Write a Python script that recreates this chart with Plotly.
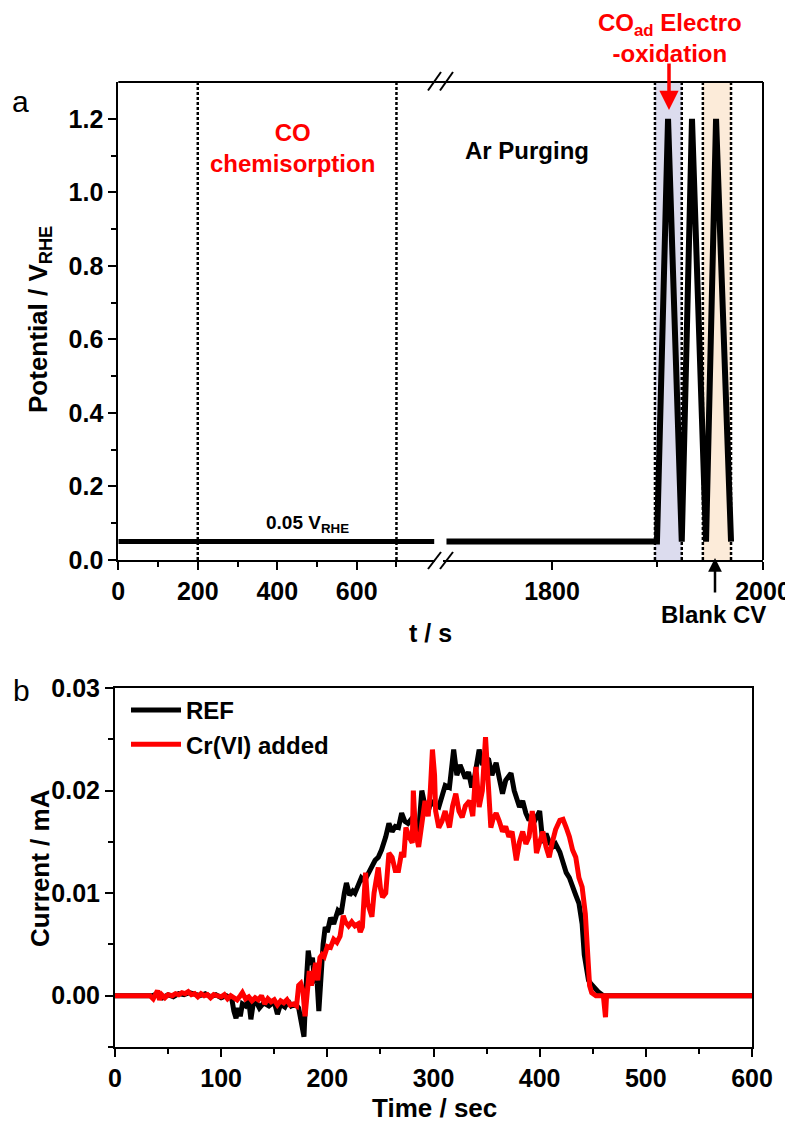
import plotly.graph_objects as go

# ---------------- data: panel a ----------------
t_hold_left = [0, 795]
e_hold_left = [0.05, 0.05]
t_cv = [1700, 1899.5, 1910, 1923, 1932.7, 1946, 1955.5, 1969.7]
e_cv = [0.05, 0.05, 1.2, 0.05, 1.2, 0.05, 1.2, 0.05]
step_marks_left = [200, 700]
co_ox_window = [1897.6, 1923]
blank_cv_window = [1943, 1969.7]

# ---------------- data: panel b ----------------
t_ref = [0, 35, 40, 45, 50, 55, 60, 65, 70, 75, 80, 85, 90, 95, 100, 105, 110, 112, 114, 116,
         118, 120, 123, 126, 128, 130, 133, 136, 140, 145, 150, 153, 156, 160, 163, 166, 170, 173,
         176, 178, 180, 182, 184, 186, 188, 190, 192, 194, 196, 198, 200, 203, 206, 210, 213, 216,
         218, 221, 224, 226, 229, 232, 235, 239, 242, 245, 248, 251, 255, 258, 261, 264, 267, 270,
         273, 276, 279, 282, 286, 289, 292, 295, 298, 301, 305, 308, 311, 315, 319, 322, 325, 327,
         330, 333, 336, 339, 343, 346, 349, 352, 355, 359, 362, 365, 368, 371, 373, 376, 379, 381,
         384, 387, 390, 393, 396, 400, 403, 406, 409, 412, 415, 419, 422, 425, 428, 431, 434, 437,
         440, 442, 444, 446, 448, 451, 455, 460, 470, 600]
i_ref = [0, 0, 0.0002, -0.0002, 0.0001, -0.0001, 0.0002, 0.0001, 0.0003, 0.0001, 0, 0.0002, -0.0001,
         0.0001, -0.0002, 0, -0.0003, -0.0015, -0.0022, -0.0012, -0.0020, -0.0008, -0.0010, -0.0005,
         -0.0023, -0.0009, -0.0006, -0.0012, -0.0007, -0.0010, -0.0006, -0.0018, -0.0008, -0.0011,
         -0.0005, -0.0010, -0.0008, -0.0012, -0.0030, -0.0040, 0.0010, 0.0044, 0.0030, 0.0037,
         0.0012, 0.0020, -0.0015, 0.0030, 0.0050, 0.0067, 0.0062, 0.0076, 0.0070, 0.0083, 0.0080,
         0.0100, 0.0110, 0.0098, 0.0102, 0.0100, 0.0108, 0.0115, 0.0112, 0.0120, 0.0125, 0.0132,
         0.0135, 0.0142, 0.0155, 0.0168, 0.0160, 0.0165, 0.0164, 0.0178, 0.0170, 0.0168, 0.0172,
         0.0165, 0.0160, 0.0200, 0.0185, 0.0180, 0.0190, 0.0186, 0.0184, 0.0195, 0.0205, 0.0203,
         0.0240, 0.0215, 0.0225, 0.0220, 0.0212, 0.0218, 0.0203, 0.0215, 0.0240, 0.0225, 0.0232,
         0.0230, 0.0215, 0.0227, 0.0210, 0.0197, 0.0210, 0.0215, 0.0217, 0.0200, 0.0192, 0.0184,
         0.0190, 0.0178, 0.0171, 0.0176, 0.0172, 0.0180, 0.0149, 0.0158, 0.0150, 0.0145, 0.0148,
         0.0140, 0.0130, 0.0120, 0.0115, 0.0105, 0.0098, 0.0090, 0.0070, 0.0040, 0.0025, 0.0015,
         0.0012, 0.0008, 0.0004, 0.0, 0.0, 0.0]

t_cr = [0, 33, 36, 38, 40, 42, 44, 47, 50, 54, 57, 60, 63, 66, 69, 72, 75, 78, 81, 84, 87, 90, 93,
        96, 100, 103, 106, 109, 112, 115, 118, 120, 123, 126, 129, 132, 135, 138, 141, 144, 147,
        150, 153, 156, 159, 162, 165, 168, 171, 173, 175, 177, 179, 181, 183, 185, 187, 189, 191,
        193, 195, 197, 200, 203, 206, 209, 212, 215, 217, 220, 223, 226, 229, 231, 233, 235, 236,
        238, 240, 242, 244, 246, 248, 250, 252, 255, 258, 261, 264, 267, 270, 272, 274, 277, 280,
        281, 283, 286, 289, 292, 295, 297, 299, 301, 302, 305, 308, 311, 313, 315, 318, 321, 324,
        327, 330, 334, 337, 340, 343, 346, 349, 351, 354, 356, 359, 362, 365, 368, 371, 374, 378,
        381, 384, 387, 390, 393, 395, 397, 400, 403, 406, 409, 412, 415, 419, 422, 425, 428, 431,
        434, 437, 440, 443, 445, 447, 449, 453, 460, 461, 462, 463, 600]
i_cr = [0, 0, -0.0003, 0.0002, 0.0005, -0.0004, 0.0001, -0.0002, 0.0001, 0.0, 0.0002, 0.0001,
        0.0003, 0.0002, 0.0004, 0.0001, 0.0002, -0.0001, 0.0002, 0.0, 0.0001, -0.0002, 0.0001, 0.0,
        -0.0001, 0.0001, -0.0003, 0.0, -0.0002, -0.0004, 0.0, 0.0003, -0.0003, -0.0001, -0.0005,
        -0.0002, -0.0004, 0.0, -0.0008, -0.0003, -0.0006, -0.0004, -0.0009, -0.0005, -0.0007,
        -0.0004, -0.0009, -0.0008, -0.0010, 0.0010, 0.0012, 0.0005, -0.0020, 0.0008, 0.0024,
        0.0010, 0.0020, 0.0032, 0.0015, 0.0037, 0.0040, 0.0038, 0.0048, 0.0047, 0.0055, 0.0052,
        0.0058, 0.0078, 0.0072, 0.0068, 0.0072, 0.0068, 0.0070, 0.0062, 0.0067, 0.0095, 0.0120,
        0.0090, 0.0082, 0.0077, 0.0100, 0.0115, 0.0125, 0.0105, 0.0096, 0.0100, 0.0139, 0.0135,
        0.0122, 0.0122, 0.0140, 0.0135, 0.0164, 0.0155, 0.0149, 0.0200, 0.0160, 0.0145, 0.0165,
        0.0190, 0.0175, 0.0200, 0.0240, 0.0215, 0.0180, 0.0164, 0.0170, 0.0180, 0.0172, 0.0164,
        0.0185, 0.0197, 0.0180, 0.0174, 0.0185, 0.0190, 0.0175, 0.0223, 0.0184, 0.0200, 0.0252,
        0.0215, 0.0164, 0.0172, 0.0178, 0.0170, 0.0160, 0.0165, 0.0155, 0.0160, 0.0132, 0.0150,
        0.0160, 0.0148, 0.0155, 0.0180, 0.0165, 0.0139, 0.0150, 0.0160, 0.0145, 0.0135, 0.0150,
        0.0162, 0.0171, 0.0172, 0.0164, 0.0155, 0.0142, 0.0135, 0.0115, 0.0106, 0.0080, 0.0040,
        0.0010, 0.0003, 0.0, 0.0, -0.0021, -0.0021, 0.0, 0.0]

series_names = ["REF", "Cr(VI) added"]
series_colors = ["#000000", "#ff0000"]

# ---------------- figure ----------------
OFF = 8                      # page body margin
W, H = 793 - OFF, 1124 - OFF
FONT = "Liberation Sans, Arial, sans-serif"


def px(x):
    return (x - OFF) / W


def py(y):
    return 1 - (y - OFF) / H


fig = go.Figure()

fig.add_trace(go.Scatter(x=t_hold_left, y=e_hold_left, mode="lines", xaxis="x", yaxis="y",
                         line=dict(color="black", width=5), showlegend=False, hoverinfo="skip"))
fig.add_trace(go.Scatter(x=t_cv, y=e_cv, mode="lines", xaxis="x2", yaxis="y",
                         line=dict(color="black", width=6), showlegend=False, hoverinfo="skip"))

fig.add_trace(go.Scatter(x=t_ref, y=i_ref, mode="lines", xaxis="x3", yaxis="y3",
                         name=series_names[0], line=dict(color=series_colors[0], width=5)))
fig.add_trace(go.Scatter(x=t_cr, y=i_cr, mode="lines", xaxis="x3", yaxis="y3",
                         name=series_names[1], line=dict(color=series_colors[1], width=5)))

tickfont = dict(family=FONT, size=25, color="black", weight="bold")
axis_common = dict(showgrid=False, zeroline=False, showline=True, linecolor="black", linewidth=2,
                   ticks="outside", ticklen=8, tickwidth=2, tickcolor="black", tickfont=tickfont,
                   automargin=False)
minor_common = dict(ticks="outside", ticklen=5, tickwidth=2, tickcolor="black", showgrid=False)

fig.update_layout(
    width=W, height=H,
    margin=dict(l=0, r=0, t=0, b=0, autoexpand=False),
    paper_bgcolor="white", plot_bgcolor="rgba(0,0,0,0)",
    xaxis=dict(domain=[px(118.3), px(435)], range=[0, 797], anchor="y",
               tickvals=[0, 200, 400, 600],
               minor=dict(tickvals=[100, 300, 500, 700], **minor_common),
               **axis_common),
    xaxis2=dict(domain=[px(443), px(763)], range=[1696.7, 2000], anchor="y",
                tickvals=[1800, 2000],
                minor=dict(tickvals=[1900], **minor_common),
                **axis_common),
    yaxis=dict(domain=[py(560), py(82)], range=[0, 1.3], anchor="x",
               tickvals=[0, 0.2, 0.4, 0.6, 0.8, 1.0, 1.2], tickformat=".1f",
               minor=dict(tickvals=[0.1, 0.3, 0.5, 0.7, 0.9, 1.1], **minor_common),
               **axis_common),
    xaxis3=dict(domain=[px(115), px(752)], range=[0, 600], anchor="y3", mirror=True,
                tickvals=[0, 100, 200, 300, 400, 500, 600],
                minor=dict(tickvals=[50, 150, 250, 350, 450, 550], **minor_common),
                **axis_common),
    yaxis3=dict(domain=[py(1047), py(688)], range=[-0.005, 0.03], anchor="x3", mirror=True,
                tickvals=[0, 0.01, 0.02, 0.03], tickformat=".2f",
                minor=dict(tickvals=[-0.005, 0.005, 0.015, 0.025], **minor_common),
                **axis_common),
    legend=dict(x=px(126), y=py(688), xanchor="left", yanchor="top", itemwidth=50,
                bgcolor="rgba(0,0,0,0)", borderwidth=0, tracegroupgap=0,
                font=dict(family=FONT, size=24, color="black", weight="bold")),
    showlegend=True,
)

shapes = []
shapes.append(dict(type="rect", xref="x2", yref="y", x0=co_ox_window[0], x1=co_ox_window[1],
                   y0=0, y1=1.3, fillcolor="#dcdcee", line=dict(width=0), layer="below"))
shapes.append(dict(type="rect", xref="x2", yref="y", x0=blank_cv_window[0], x1=blank_cv_window[1],
                   y0=0, y1=1.3, fillcolor="#fcebd9", line=dict(width=0), layer="below"))
dotline = dict(color="black", width=2.5, dash="3px,2px")
for xv in step_marks_left:
    shapes.append(dict(type="line", xref="x", yref="y", x0=xv, x1=xv, y0=0, y1=1.3,
                       line=dotline, layer="below"))
for xv in co_ox_window + blank_cv_window:
    shapes.append(dict(type="line", xref="x2", yref="y", x0=xv, x1=xv, y0=0, y1=1.3,
                       line=dotline, layer="below"))
shapes.append(dict(type="line", xref="paper", yref="paper", x0=px(118.3), x1=px(763),
                   y0=py(82), y1=py(82), line=dict(color="black", width=2)))
shapes.append(dict(type="line", xref="paper", yref="paper", x0=px(763), x1=px(763),
                   y0=py(82), y1=py(560), line=dict(color="black", width=2)))
for (ya, yb) in [(569, 552), (90.5, 72)]:
    for dx in [0, 12]:
        shapes.append(dict(type="line", xref="paper", yref="paper",
                           x0=px(428 + dx), x1=px(441 + dx), y0=py(ya), y1=py(yb),
                           line=dict(color="black", width=2)))
fig.update_layout(shapes=shapes)

ann = []


def text(x, y, s, size, color="black", weight="bold", angle=0):
    ann.append(dict(x=px(x), y=py(y), xref="paper", yref="paper", text=s, showarrow=False,
                    xanchor="center", yanchor="middle", textangle=angle,
                    font=dict(family=FONT, size=size, color=color, weight=weight)))


text(20, 101, "a", 30, weight="normal")
text(21, 690, "b", 30, weight="normal")
text(292, 148, "CO<br>chemisorption", 24, color="#ff0000")
text(527, 151, "Ar Purging", 24)
text(307, 524, "0.05 V<sub>RHE</sub>", 19)
text(670, 38, "CO<sub>ad</sub> Electro<br>-oxidation", 24, color="#ff0000")
text(713, 614, "Blank CV", 24)
text(430, 633, "t / s", 25)
text(40, 320, "Potential / V<sub>RHE</sub>", 26, angle=-90)
text(434, 1108, "Time / sec", 26)
text(40, 868, "Current / mA", 26, angle=-90)

ann.append(dict(x=px(669), y=py(110), xref="paper", yref="paper", text="", showarrow=True,
                ax=0, ay=-48, arrowhead=2, arrowsize=1.1, arrowwidth=3.5, arrowcolor="#ff0000"))
ann.append(dict(x=px(715), y=py(558), xref="paper", yref="paper", text="", showarrow=True,
                ax=0, ay=36, arrowhead=2, arrowsize=1.1, arrowwidth=2.5, arrowcolor="black"))
fig.update_layout(annotations=ann)

fig.write_html("out.html")
